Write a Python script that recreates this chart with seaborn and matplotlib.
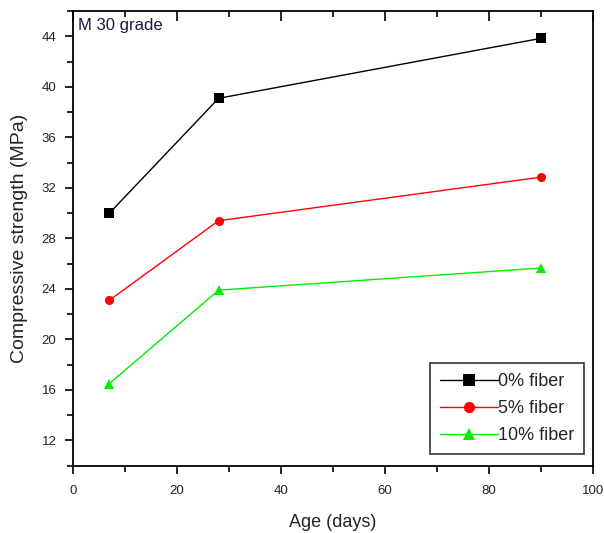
import matplotlib
matplotlib.use("Agg")
import matplotlib.pyplot as plt
import seaborn as sns
import pandas as pd
from matplotlib.ticker import MultipleLocator

ages = [7, 28, 90]
series_names = ["0% fiber", "5% fiber", "10% fiber"]
fiber0 = [30.0, 39.1, 43.85]
fiber5 = [23.1, 29.4, 32.85]
fiber10 = [16.5, 23.9, 25.65]

rows = []
for name, vals in zip(series_names, [fiber0, fiber5, fiber10]):
    for a, v in zip(ages, vals):
        rows.append({"Age": a, "Strength": v, "Series": name})
df = pd.DataFrame(rows)

sns.set_theme(style="white")
plt.rcParams['font.family'] = ['Liberation Sans', 'DejaVu Sans']

fig = plt.figure(figsize=(6.04, 5.33), dpi=100)
ax = fig.add_axes([0.1209, 0.1265, 0.8609, 0.8525])

palette = {"0% fiber": "#000000", "5% fiber": "#ff0000", "10% fiber": "#00ee00"}
markers = {"0% fiber": "s", "5% fiber": "o", "10% fiber": "^"}
sns.lineplot(data=df, x="Age", y="Strength", hue="Series", style="Series",
             palette=palette, markers=markers, dashes=False, ax=ax,
             linewidth=1.0, markersize=6.5, markeredgewidth=0, legend=True)

ax.set_xlim(0, 100)
ax.set_ylim(10, 46)
ax.xaxis.set_major_locator(MultipleLocator(20))
ax.xaxis.set_minor_locator(MultipleLocator(10))
ax.set_yticks([12, 16, 20, 24, 28, 32, 36, 40, 44])
ax.yaxis.set_minor_locator(MultipleLocator(2))

ax.tick_params(axis='both', which='both', direction='out', color='black',
               labelsize=9.5, labelcolor='#222222')
ax.tick_params(axis='both', which='major', length=6, width=1.2)
ax.tick_params(axis='both', which='minor', length=4, width=1.2)
ax.tick_params(axis='x', which='both', top=False, bottom=True, pad=8)
ax.tick_params(axis='y', which='both', left=True, right=False, pad=6)
# top ticks pointing inward
sec = ax.secondary_xaxis('top')
sec.xaxis.set_major_locator(MultipleLocator(20))
sec.xaxis.set_minor_locator(MultipleLocator(10))
sec.tick_params(which='both', direction='in', labeltop=False, width=1.2, color='black')
sec.tick_params(which='major', length=7)
sec.tick_params(which='minor', length=4)
sec.spines['top'].set_visible(False)

for s in ax.spines.values():
    s.set_color('black')
    s.set_linewidth(1.3)

ax.set_xlabel("Age (days)", fontsize=13, labelpad=12, color='#222222')
ax.set_ylabel("Compressive strength (MPa)", fontsize=14, labelpad=10, color='#222222')

ax.text(0.01, 0.985, "M 30 grade", transform=ax.transAxes, fontsize=12,
        va='top', ha='left', color='#1a1a3a')

handles, labels = ax.get_legend_handles_labels()
for h in handles:
    h.set_markersize(8)
leg = ax.legend(handles, labels, loc='lower right', bbox_to_anchor=(0.983, 0.025),
                fontsize=13, frameon=True, fancybox=False, edgecolor='black',
                handlelength=3.2, handletextpad=0.0, borderpad=0.55,
                labelspacing=0.55, borderaxespad=0)
leg.get_frame().set_linewidth(1.2)

fig.savefig("out.png", dpi=100)
